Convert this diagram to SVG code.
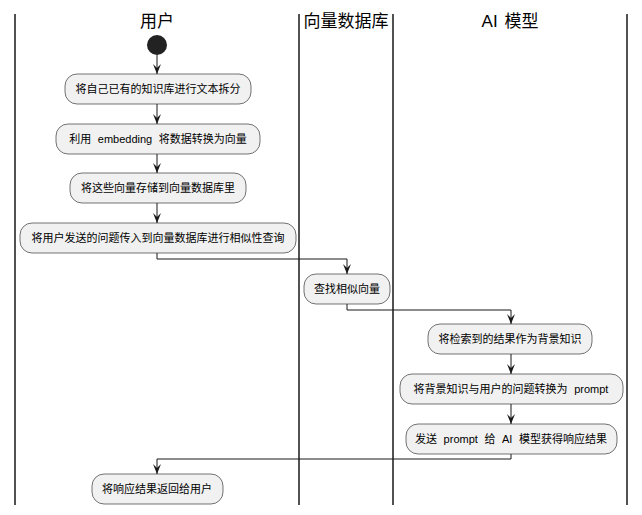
<svg xmlns="http://www.w3.org/2000/svg" width="642" height="515" viewBox="0 0 642 515">
<style>
.lane{stroke:#181818;stroke-width:1.5;fill:none}
.hdr{font-family:"Liberation Sans","Noto Sans CJK SC",sans-serif;font-size:17px;fill:#000;text-anchor:middle}
.box{fill:#F1F1F1;stroke:#181818;stroke-width:0.6}
.lbl{font-family:"Liberation Sans","Noto Sans CJK SC",sans-serif;font-size:11px;fill:#000;text-anchor:middle;word-spacing:3.5px}
.edge{stroke:#181818;stroke-width:1;fill:none}
</style>
<defs>
<marker id="arr" viewBox="0 0 10 10" refX="10" refY="5" markerWidth="10" markerHeight="10" markerUnits="userSpaceOnUse" orient="auto">
<path d="M0,1 L10,5 L0,9 L4,5 Z" fill="#181818"/>
</marker>
</defs>
<rect width="642" height="515" fill="#fff"/>
<g id="lanes">
<line class="lane" x1="15" y1="14" x2="15" y2="505"/>
<line class="lane" x1="299" y1="14" x2="299" y2="505"/>
<line class="lane" x1="393" y1="14" x2="393" y2="505"/>
<line class="lane" x1="627" y1="14" x2="627" y2="505"/>
<text class="hdr" x="157" y="27">用户</text>
<text class="hdr" x="346" y="27">向量数据库</text>
<text class="hdr" x="510" y="27" style="word-spacing:2px">AI 模型</text>
</g>
<g id="start"><circle cx="157" cy="45" r="10" fill="#222"/></g>
<g id="n1"><rect class="box" x="65" y="74" width="186" height="30" rx="12"/><text class="lbl" x="158" y="93">将自己已有的知识库进行文本拆分</text></g>
<g id="n2"><rect class="box" x="56" y="124" width="204" height="30" rx="12"/><text class="lbl" x="158" y="143">利用 embedding 将数据转换为向量</text></g>
<g id="n3"><rect class="box" x="70" y="173" width="176" height="30" rx="12"/><text class="lbl" x="158" y="192">将这些向量存储到向量数据库里</text></g>
<g id="n4"><rect class="box" x="20" y="223" width="276" height="30" rx="12"/><text class="lbl" x="158" y="242">将用户发送的问题传入到向量数据库进行相似性查询</text></g>
<g id="n5"><rect class="box" x="304" y="274" width="86" height="30" rx="12"/><text class="lbl" x="347" y="293">查找相似向量</text></g>
<g id="n6"><rect class="box" x="428" y="324" width="164" height="30" rx="12"/><text class="lbl" x="510" y="343">将检索到的结果作为背景知识</text></g>
<g id="n7"><rect class="box" x="400" y="374" width="223" height="30" rx="12"/><text class="lbl" x="511" y="393">将背景知识与用户的问题转换为 prompt</text></g>
<g id="n8"><rect class="box" x="406" y="424" width="211" height="30" rx="12"/><text class="lbl" x="511" y="443">发送 prompt 给 AI 模型获得响应结果</text></g>
<g id="n9"><rect class="box" x="92" y="474" width="131" height="30" rx="12"/><text class="lbl" x="157" y="493">将响应结果返回给用户</text></g>
<g id="connectors">
<path class="edge" d="M157,55 V74" marker-end="url(#arr)"/>
<path class="edge" d="M157,104 V124" marker-end="url(#arr)"/>
<path class="edge" d="M157,154 V173" marker-end="url(#arr)"/>
<path class="edge" d="M157,203 V223" marker-end="url(#arr)"/>
<path class="edge" d="M157,253 V259 H347 V274" marker-end="url(#arr)"/>
<path class="edge" d="M347,304 V310 H511 V324" marker-end="url(#arr)"/>
<path class="edge" d="M511,354 V374" marker-end="url(#arr)"/>
<path class="edge" d="M511,404 V424" marker-end="url(#arr)"/>
<path class="edge" d="M511,454 V459 H157 V474" marker-end="url(#arr)"/>
</g>
</svg>
